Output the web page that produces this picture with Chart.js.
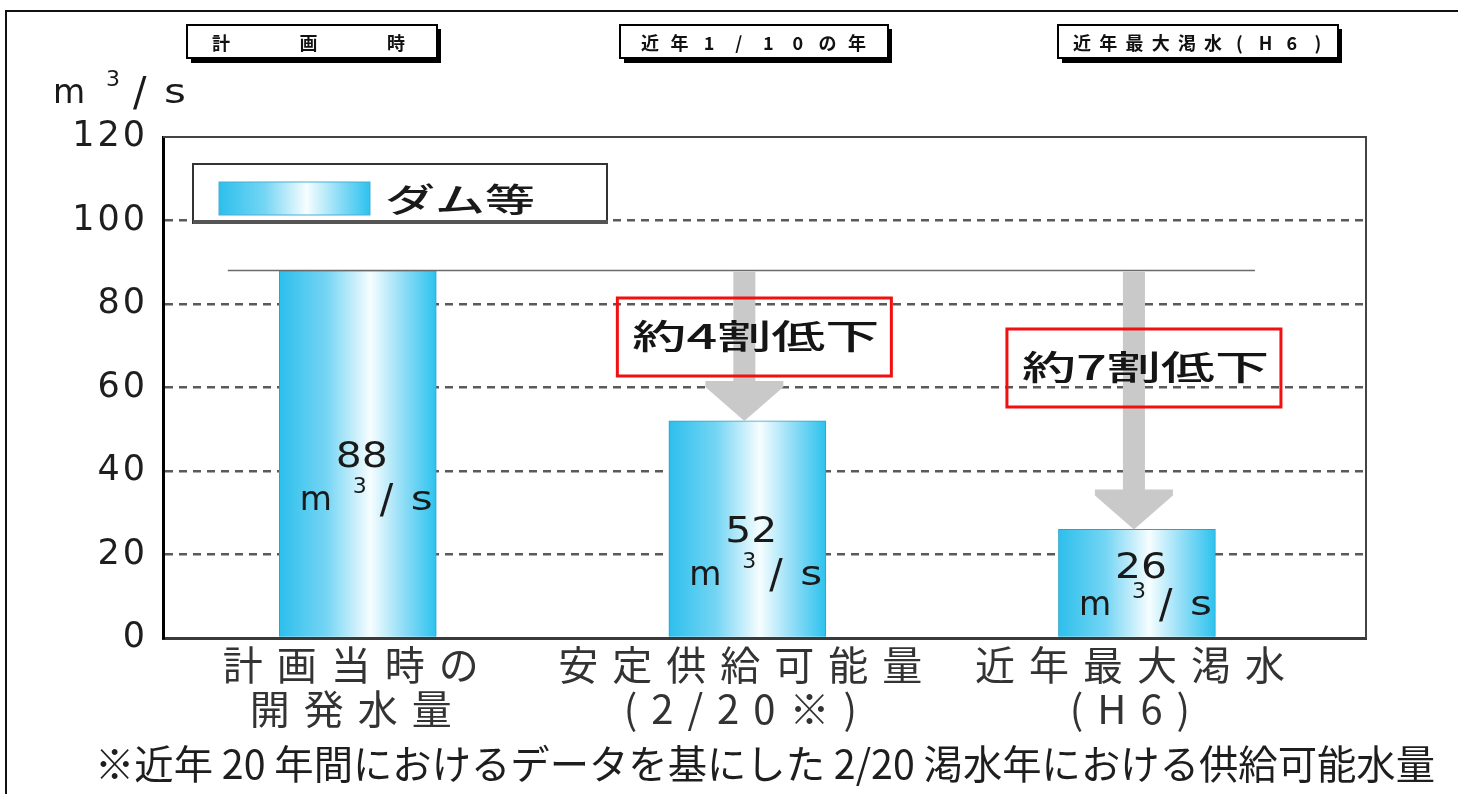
<!DOCTYPE html>
<html>
<head>
<meta charset="utf-8">
<script src="https://cdn.jsdelivr.net/npm/chart.js@4"></script>
<style>
html, body { margin: 0; padding: 0; background: #fff; }
#wrap { position: relative; width: 1458px; height: 794px; overflow: hidden; }
#chart { position: absolute; left: 0; top: 0; }
#frame { position: absolute; left: 5px; top: 10px; right: -10px; bottom: -10px;
  border-top: 2px solid #111; border-left: 2px solid #111; pointer-events: none; }
</style>
</head>
<body>
<div id="wrap">
  <canvas id="chart" width="1458" height="794"></canvas>
  <div id="frame"></div>
</div>
<script>
// Data
const categoryLabels = [['計画当時の', '開発水量'], ['安定供給可能量', '(2/20※)'], ['近年最大渇水', '(H6)']];
const flowValues = [88, 52, 26];
const yTickValues = [0, 20, 40, 60, 80, 100, 120];
const seriesLabel = 'ダム等';
const plannedLevel = 88;
const dropLabels = ['', '約4割低下', '約7割低下'];
const periodHeaders = ['計画時', '近年1/10の年', '近年最大渇水(H6)'];
const footnoteText = '※近年 20 年間におけるデータを基にした 2/20 渇水年における供給可能水量';

const BAR_W = 157;
const NUM_FONT = 'DejaVu Sans';
const JP_FONT = '"Noto Sans CJK JP", "Noto Sans", sans-serif';

function barGradient(ctx, x0, x1) {
    const g = ctx.createLinearGradient(x0, 0, x1, 0);
    g.addColorStop(0, '#2dbfec');
    g.addColorStop(0.3, '#74d5f4');
    g.addColorStop(0.58, '#f6fdff');
    g.addColorStop(0.8, '#8bdcf6');
    g.addColorStop(1, '#2cc2ee');
    return g;
}

// draw text squeezed/stretched to a given width
function fitText(ctx, text, x, y, width) {
    ctx.letterSpacing = '0px';
    const w = ctx.measureText(text).width;
    ctx.save();
    ctx.translate(x, y);
    ctx.scale(width / w, 1);
    ctx.textAlign = 'left';
    ctx.fillText(text, 0, 0);
    ctx.restore();
}

// chars spread evenly between two centre positions
function spreadText(ctx, text, c0, c1, y) {
    const chars = Array.from(text);
    const step = (c1 - c0) / (chars.length - 1);
    ctx.letterSpacing = '0px';
    ctx.textAlign = 'center';
    chars.forEach((ch, i) => ctx.fillText(ch, c0 + i * step, y));
}

// "m3/s" with superscript, cx = centre, y = baseline
function drawUnit(ctx, cx, y) {
    ctx.save();
    ctx.letterSpacing = '0px';
    ctx.fillStyle = '#1a1a1a';
    ctx.textAlign = 'left';
    ctx.textBaseline = 'alphabetic';
    ctx.font = `33px ${NUM_FONT}`;
    ctx.fillText('m', cx - 66, y);
    ctx.font = `22px ${NUM_FONT}`;
    ctx.fillText('3', cx - 13, y - 17);
    ctx.font = `40px ${NUM_FONT}`;
    ctx.fillText('/', cx + 14, y + 3);
    ctx.font = `33px ${NUM_FONT}`;
    fitText(ctx, 's', cx + 45, y, 22);
    ctx.restore();
}

// wider letter spacing for one axis' labels only
function spaced(scale, spacing) {
    if (scale._spaced) return;
    const orig = scale.drawLabels;
    scale.drawLabels = function (area) {
        this.ctx.letterSpacing = spacing;
        orig.call(this, area);
        this.ctx.letterSpacing = '0px';
    };
    scale._spaced = true;
}

const annotations = {
    id: 'annotations',
    afterDatasetsDraw(chart) {
        const ctx = chart.ctx;
        const xs = chart.scales.x;
        const ys = chart.scales.y;
        const area = chart.chartArea;
        const topY = ys.getPixelForValue(plannedLevel);

        ctx.save();
        ctx.letterSpacing = '0px';

        // thin border on top and right of the plot
        ctx.strokeStyle = '#444';
        ctx.lineWidth = 2;
        ctx.beginPath();
        ctx.moveTo(area.left, area.top);
        ctx.lineTo(area.right, area.top);
        ctx.lineTo(area.right, area.bottom);
        ctx.stroke();

        // planned level line
        ctx.strokeStyle = '#6a6a6a';
        ctx.lineWidth = 1.5;
        ctx.beginPath();
        ctx.moveTo(xs.getPixelForValue(0) - 130, topY);
        ctx.lineTo(xs.getPixelForValue(2) + 118, topY);
        ctx.stroke();

        // grey arrows down to the reduced bars
        ctx.fillStyle = '#c9c9c9';
        for (let i = 1; i < flowValues.length; i++) {
            const cx = xs.getPixelForValue(i) - 3;
            const tip = ys.getPixelForValue(flowValues[i]);
            const headTop = tip - 40;
            ctx.fillRect(cx - 11, topY + 1, 22, headTop - topY);
            ctx.beginPath();
            ctx.moveTo(cx - 39, headTop);
            ctx.lineTo(cx + 39, headTop);
            ctx.lineTo(cx + 39, headTop + 6);
            ctx.lineTo(cx, tip);
            ctx.lineTo(cx - 39, headTop + 6);
            ctx.closePath();
            ctx.fill();
        }

        // red boxes with reduction text
        const boxMid = [0, 337, 368];
        for (let i = 1; i < dropLabels.length; i++) {
            const cx = xs.getPixelForValue(i) + 7;
            const cy = boxMid[i];
            ctx.strokeStyle = '#f01010';
            ctx.lineWidth = 3;
            ctx.strokeRect(cx - 137, cy - 39, 274, 78);
            ctx.fillStyle = '#151515';
            ctx.font = `500 34px ${JP_FONT}`;
            ctx.textBaseline = 'middle';
            fitText(ctx, dropLabels[i], cx - 122, cy - 1, 247);
        }

        // value labels inside the bars
        ctx.fillStyle = '#1a1a1a';
        ctx.textBaseline = 'alphabetic';
        flowValues.forEach((v, i) => {
            const cx = xs.getPixelForValue(i) + 4;
            const mid = ys.getPixelForValue(v / 2);
            const numBase = Math.min(mid + 13, area.bottom - 60);
            const unitBase = Math.min(numBase + 43, area.bottom - 23);
            ctx.font = `35px ${NUM_FONT}`;
            fitText(ctx, String(v), cx - 26, numBase, 52);
            drawUnit(ctx, cx + 4, unitBase);
        });

        // legend box
        ctx.fillStyle = '#fff';
        ctx.fillRect(193, 164, 414, 59);
        ctx.strokeStyle = '#333';
        ctx.lineWidth = 2;
        ctx.strokeRect(193, 164, 414, 59);
        ctx.fillStyle = '#555';
        ctx.fillRect(193, 220, 415, 4);
        ctx.fillStyle = barGradient(ctx, 219, 370);
        ctx.fillRect(219, 182, 151, 33);
        ctx.strokeStyle = '#4aaed0';
        ctx.lineWidth = 1;
        ctx.strokeRect(219, 182, 151, 33);
        ctx.fillStyle = '#1a1a1a';
        ctx.font = `500 33px ${JP_FONT}`;
        ctx.textBaseline = 'middle';
        fitText(ctx, seriesLabel, 385, 199, 150);
        ctx.restore();
    },
    afterDraw(chart) {
        const ctx = chart.ctx;
        ctx.save();
        ctx.letterSpacing = '0px';

        // period header boxes
        const boxes = [[187, 437, 221, 396], [620, 888, 650, 857], [1058, 1338, 1082, 1318]];
        boxes.forEach((b, i) => {
            ctx.fillStyle = '#000';
            ctx.fillRect(b[0] + 4, 29, b[1] - b[0], 34);
            ctx.fillStyle = '#fff';
            ctx.fillRect(b[0], 25, b[1] - b[0], 33);
            ctx.strokeStyle = '#000';
            ctx.lineWidth = 2;
            ctx.strokeRect(b[0], 25, b[1] - b[0], 33);
            ctx.fillStyle = '#111';
            ctx.font = `bold 18px ${JP_FONT}`;
            ctx.textBaseline = 'middle';
            spreadText(ctx, periodHeaders[i], b[2], b[3], 43);
        });

        // axis unit
        drawUnit(ctx, 119, 103);

        // footnote
        ctx.fillStyle = '#1e1e1e';
        ctx.font = `40px ${JP_FONT}`;
        ctx.textBaseline = 'alphabetic';
        fitText(ctx, footnoteText, 95, 779, 1340);
        ctx.restore();
    }
};

const ctx = document.getElementById('chart').getContext('2d');

const chart = new Chart(ctx, {
    type: 'bar',
    data: {
        datasets: [{
            label: seriesLabel,
            data: flowValues.map((v, i) => ({ x: i, y: v })),
            barThickness: BAR_W,
            backgroundColor: (c) => {
                const ch = c.chart;
                if (!ch.chartArea) return '#3cc8f0';
                const cx = ch.scales.x.getPixelForValue(c.dataIndex);
                return barGradient(ch.ctx, cx - BAR_W / 2, cx + BAR_W / 2);
            },
            borderColor: '#2aa3cc',
            borderWidth: 1,
            borderSkipped: 'bottom'
        }]
    },
    options: {
        responsive: false,
        animation: false,
        events: [],
        layout: { padding: { left: 0, top: 137, right: 92, bottom: 0 } },
        plugins: {
            legend: { display: false },
            tooltip: { enabled: false }
        },
        scales: {
            x: {
                type: 'linear',
                min: -0.5,
                max: 2.588,
                offset: false,
                afterBuildTicks: (s) => { s.ticks = categoryLabels.map((_, i) => ({ value: i })); },
                afterFit: (s) => { s.height = 156; spaced(s, '14px'); },
                ticks: {
                    callback: (v) => categoryLabels[v],
                    font: { family: JP_FONT, size: 40, lineHeight: 1.12 },
                    color: '#333',
                    padding: 4,
                    maxRotation: 0,
                    autoSkip: false
                },
                grid: { display: false, drawTicks: false },
                border: { display: true, color: '#3a3a3a', width: 3 }
            },
            y: {
                min: 0,
                max: 120,
                afterBuildTicks: (s) => { s.ticks = yTickValues.map((v) => ({ value: v })); },
                afterFit: (s) => { s.width = 163; spaced(s, '3px'); },
                ticks: {
                    font: { family: NUM_FONT, size: 35 },
                    color: '#1e1e1e',
                    padding: 15
                },
                grid: {
                    drawTicks: false,
                    lineWidth: 2.5,
                    color: (c) => (c.tick.value === 0 || c.tick.value === 120) ? 'rgba(0,0,0,0)' : '#5a5a5a'
                },
                border: { display: true, color: '#000', width: 3, dash: [8, 6] }
            }
        }
    },
    plugins: [annotations]
});
</script>
</body>
</html>
